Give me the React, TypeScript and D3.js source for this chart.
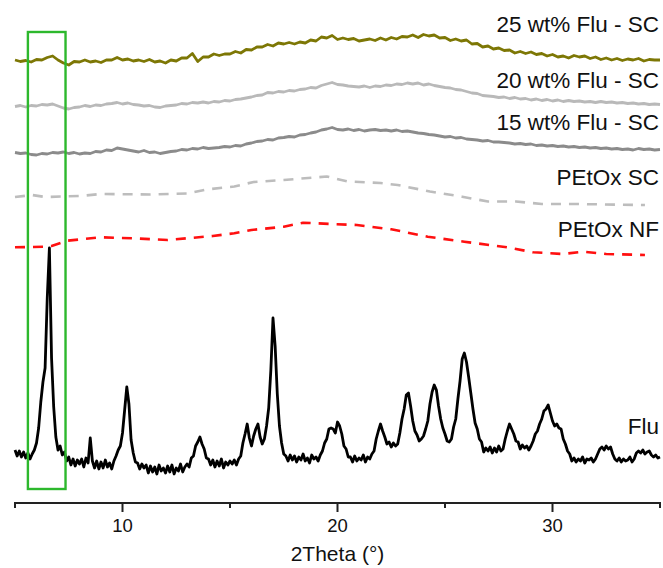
import * as d3 from "d3";
import { useEffect, useRef } from "react";

// 2Theta grids (degrees)
const fluStart = 5, fluStep = 0.1;
const filmStart = 5, filmStep = 0.25;

// Flu powder, counts read at 0.1 deg steps from 5 to 35
const fluCounts = [
  20, 14, 19, 13, 18, 12, 17, 11, 16, 20,
  27, 42, 68, 88, 102, 172, 222, 112, 63, 33,
  20, 24, 15, 18, 9, 13, 5, 11, 4, 10,
  6, 11, 3, 12, 7, 32, 9, 2, 9, 1,
  8, 2, 10, 3, 7, 1, 9, 14, 20, 24,
  37, 60, 83, 66, 30, 17, 8, 7, 1, 6,
  2, 5, -3, 4, -2, 3, -4, 5, -1, 2,
  -3, 4, -2, 5, -4, 2, -1, 6, -2, 3,
  6, 3, 12, 14, 24, 28, 33, 26, 21, 12,
  11, 5, 10, 3, 9, 4, 11, 2, 8, 5,
  9, 6, 10, 5, 11, 14, 27, 36, 46, 32,
  24, 34, 41, 46, 33, 26, 31, 44, 62, 100,
  152, 124, 76, 44, 27, 16, 14, 9, 15, 10,
  14, 8, 13, 10, 16, 9, 12, 7, 15, 11,
  13, 9, 15, 19, 27, 31, 41, 42, 41, 37,
  48, 44, 36, 24, 21, 13, 13, 8, 14, 9,
  12, 10, 15, 8, 13, 11, 16, 19, 31, 39,
  46, 39, 33, 26, 28, 23, 27, 24, 26, 37,
  51, 61, 75, 77, 64, 49, 39, 35, 29, 31,
  34, 41, 49, 66, 78, 85, 80, 64, 51, 42,
  36, 29, 28, 31, 43, 51, 71, 89, 111, 117,
  108, 93, 77, 61, 47, 41, 31, 28, 18, 22,
  19, 23, 17, 22, 18, 24, 19, 21, 31, 39,
  46, 41, 36, 29, 28, 21, 25, 22, 24, 20,
  24, 29, 36, 39, 46, 51, 59, 61, 65, 57,
  49, 44, 46, 42, 41, 31, 26, 19, 16, 9,
  12, 8, 11, 9, 13, 7, 11, 10, 12, 8,
  11, 16, 21, 23, 20, 24, 21, 23, 16, 11,
  9, 12, 8, 11, 9, 10, 13, 8, 11, 17,
  19, 17, 20, 16, 18, 19, 15, 13, 15, 12,
  13,
];

// spin-coated films, counts at 0.25 deg steps from 5 to 35
const flu25Counts = [
  10, 8.5, 9.5, 8, 10.5, 10, 12.5, 14, 10, 7,
  5, 8.5, 8, 10, 8, 9, 7.5, 10, 10, 12.5,
  10, 11, 9, 10, 8.5, 10.5, 8, 9, 7, 10,
  9, 12, 12, 16.5, 8.5, 13, 13, 16, 14.5, 16,
  16, 18.5, 17, 20.5, 20, 23, 23, 25.5, 24, 27,
  26, 27.5, 26, 28, 27, 30, 29, 33, 32, 34.5,
  30.5, 32, 30.5, 31.5, 29, 30, 31, 29.5, 32, 30,
  32.5, 31, 33.5, 33, 35, 32.5, 35.5, 34, 35, 32,
  32.5, 29.5, 31, 29, 30, 26, 26.5, 23, 24, 21,
  22, 19.5, 20, 17, 18.5, 16.5, 18, 15.5, 16.5, 14,
  15.5, 13, 14, 12, 14.5, 13, 14, 11.5, 13, 10.5,
  12, 10, 11.5, 9.5, 11, 10, 11.5, 9, 10.5, 10,
  10,
];

const flu20Counts = [
  8.5, 9.5, 8, 9.5, 9, 10.5, 10, 11, 9, 7,
  6, 7.5, 8, 9.5, 8.5, 10, 9.5, 11, 11.5, 12.5,
  11, 12, 10.5, 10, 9, 9.5, 8, 7.5, 9, 9.5,
  10, 11.5, 11, 12.5, 12, 13, 12, 13.5, 13, 14.5,
  14, 15.5, 16, 17, 18, 19.5, 20, 22.5, 22, 23.5,
  23, 24.5, 24, 25.5, 26, 27.5, 27, 29.5, 31, 32.5,
  30.5, 30, 29, 28.5, 28, 29, 27.5, 29, 28.5, 30,
  29.5, 31, 30.5, 32, 31, 32, 30, 31, 29.5, 28.5,
  27.5, 27, 25.5, 25, 23.5, 22, 21.5, 19.5, 19, 18.5,
  17.5, 18, 16.5, 17.5, 16, 16.5, 15, 16, 14.5, 15.5,
  14, 15, 13.5, 14.5, 13.5, 14, 13, 13.5, 12.5, 13.5,
  12.5, 13, 12, 12.5, 11.5, 12, 11, 11.5, 10.5, 11,
  10.5,
];

const flu15Counts = [
  7.5, 6.5, 7, 5.5, 5, 6.5, 6, 7.5, 7, 8,
  6.5, 7.5, 6, 7, 6.5, 8.5, 8, 10, 9.5, 12,
  11, 10, 9, 8, 9.5, 7.5, 8, 6.5, 7.5, 8.5,
  9, 10.5, 10, 11.5, 11, 12.5, 11.5, 12, 12.5, 13.5,
  13, 14.5, 14, 16, 17, 18.5, 19, 20.5, 20, 22,
  22.5, 23.5, 23, 25, 25.5, 27, 28, 30, 31, 32.5,
  30.5, 30, 31, 29.5, 30.5, 29, 30, 30.5, 29.5, 30,
  29, 30, 28.5, 29, 28, 27, 26.5, 25.5, 25, 24,
  23, 23.5, 22, 22.5, 21, 20.5, 20, 19, 19.5, 18,
  18, 17.5, 17, 16, 16.5, 15.5, 16, 14.5, 15, 14,
  14.5, 13.5, 14, 13, 13.5, 12.5, 13, 12, 12.5, 11.5,
  12, 11, 11.5, 10.5, 11, 10, 11.5, 10.5, 11, 10,
  10.5,
];

// polymer references, sparse points
const petoxScTheta = [5.0, 5.8, 6.4, 8.0, 9.0, 11.3, 13.0, 13.9, 15.2, 16.1, 17.5, 19.5, 20.5, 22.0, 22.8, 24.3, 25.8, 27.0, 28.3, 29.5, 31.0, 34.3];
const petoxScCounts = [8, 10, 8, 9, 11, 10.5, 11.5, 15.5, 18.5, 23, 25, 28.5, 23.5, 22, 20, 13.5, 8.3, 3.5, 3.5, 1, 1, 0];

const petoxNfTheta = [5.0, 6.4, 6.7, 7.45, 9.0, 10.5, 12.1, 13.0, 14.2, 15.2, 16.0, 17.5, 18.4, 19.7, 20.9, 22.5, 24.2, 25.9, 27.9, 29.1, 30.5, 31.4, 32.5, 34.3];
const petoxNfCounts = [7.7, 8.3, 9, 14.3, 17.7, 16.7, 15, 16.7, 19, 21.7, 25, 28.3, 32.3, 31, 30, 25.7, 18.3, 13.3, 7.7, 2.7, 1, 3.3, 1, 0];

const seriesNames = ["25 wt% Flu - SC", "20 wt% Flu - SC", "15 wt% Flu - SC", "PEtOx SC", "PEtOx NF", "Flu"];
const seriesOffsets = [400, 355, 310, 265, 215, 0];
const majorTicks = [10, 20, 30];
const minorTicks = [5, 15, 25, 35];
const highlightRange = [5.6, 7.35];

const App = () => {
  const ref = useRef<SVGSVGElement>(null);

  useEffect(() => {
    const svg = d3.select(ref.current);
    svg.selectAll("*").remove();

    const x = d3.scaleLinear().domain([5, 35]).range([15, 660]);
    const y = d3.scaleLinear().domain([0, 450]).range([470, 20]);

    const grid = (n: number, start: number, step: number) =>
      d3.range(n).map((i) => start + i * step);

    const fluTheta = grid(fluCounts.length, fluStart, fluStep);
    const filmTheta = grid(flu25Counts.length, filmStart, filmStep);

    const traces = [
      { t: filmTheta, c: flu25Counts, color: "#7d7705", w: 2.8, dash: null },
      { t: filmTheta, c: flu20Counts, color: "#b9b9b9", w: 2.8, dash: null },
      { t: filmTheta, c: flu15Counts, color: "#8b8b8b", w: 2.8, dash: null },
      { t: petoxScTheta, c: petoxScCounts, color: "#bdbdbd", w: 2.6, dash: "10,8" },
      { t: petoxNfTheta, c: petoxNfCounts, color: "#ff1010", w: 2.6, dash: "10,8" },
      { t: fluTheta, c: fluCounts, color: "#000000", w: 2.8, dash: null },
    ];

    const line = d3.line<[number, number]>()
      .x((d) => x(d[0]))
      .y((d) => y(d[1]));

    traces.forEach((tr, i) => {
      const pts: [number, number][] = tr.t.map((t, j) => [t, tr.c[j] + seriesOffsets[i]]);
      svg.append("path")
        .attr("d", line(pts))
        .attr("fill", "none")
        .attr("stroke", tr.color)
        .attr("stroke-width", tr.w)
        .attr("stroke-linejoin", "round")
        .attr("stroke-dasharray", tr.dash);
    });

    // highlight box round the first Flu reflection
    svg.append("rect")
      .attr("x", x(highlightRange[0]))
      .attr("y", 32)
      .attr("width", x(highlightRange[1]) - x(highlightRange[0]))
      .attr("height", 457)
      .attr("fill", "none")
      .attr("stroke", "#2db82d")
      .attr("stroke-width", 2.4);

    // labels
    const labelY = [32, 88, 130, 185, 237, 434];
    svg.append("g")
      .selectAll("text")
      .data(seriesNames)
      .enter()
      .append("text")
      .attr("x", 659)
      .attr("y", (d, i) => labelY[i])
      .attr("text-anchor", "end")
      .attr("font-size", 22.5)
      .attr("fill", "#111")
      .text((d) => d);

    // x axis
    const axisY = 503;
    const ax = svg.append("g").attr("stroke", "#222");
    ax.append("line")
      .attr("x1", x(5) - 1).attr("x2", x(35) + 1)
      .attr("y1", axisY).attr("y2", axisY)
      .attr("stroke-width", 2);
    ax.selectAll(".major")
      .data(majorTicks)
      .enter()
      .append("line")
      .attr("x1", (d) => x(d)).attr("x2", (d) => x(d))
      .attr("y1", axisY).attr("y2", axisY + 9)
      .attr("stroke-width", 2);
    ax.selectAll(".minor")
      .data(minorTicks)
      .enter()
      .append("line")
      .attr("x1", (d) => x(d)).attr("x2", (d) => x(d))
      .attr("y1", axisY).attr("y2", axisY + 5)
      .attr("stroke-width", 2);
    svg.append("g")
      .selectAll("text")
      .data(majorTicks)
      .enter()
      .append("text")
      .attr("x", (d) => x(d))
      .attr("y", 532)
      .attr("text-anchor", "middle")
      .attr("font-size", 18.5)
      .attr("fill", "#111")
      .text((d) => d);

    svg.append("text")
      .attr("x", x(20))
      .attr("y", 561)
      .attr("text-anchor", "middle")
      .attr("font-size", 21)
      .attr("fill", "#111")
      .text("2Theta (°)");
  }, []);

  return (
    <svg
      ref={ref}
      width={663}
      height={568}
      style={{ position: "absolute", left: 0, top: 0, background: "#fff" }}
      fontFamily="'Liberation Sans', Arial, sans-serif"
    />
  );
};

export default App;
